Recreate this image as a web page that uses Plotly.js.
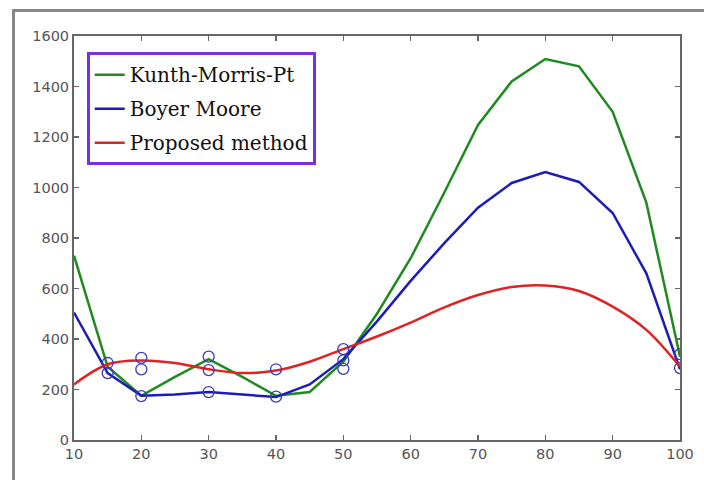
<!DOCTYPE html>
<html>
<head>
<meta charset="utf-8">
<script src="https://cdn.plot.ly/plotly-3.0.1.min.js"></script>
<style>
html,body{margin:0;padding:0;background:#fff;}
#wrap{position:relative;width:704px;height:480px;overflow:hidden;}
#frame{position:absolute;left:12px;top:9px;width:720px;height:500px;border-left:3px solid #888;border-top:3px solid #888;box-sizing:border-box;}
#chart{position:absolute;left:0;top:0;width:704px;height:480px;}
</style>
</head>
<body>
<div id="wrap"><div id="frame"></div><div id="chart"></div></div>
<script>
const xVals = [10, 15, 20, 25, 30, 35, 40, 45, 50, 55, 60, 65, 70, 75, 80, 85, 90, 95, 100];
const kmp = [730, 290, 175, 250, 320, 250, 175, 190, 310, 500, 720, 980, 1248, 1420, 1509, 1480, 1300, 940, 330];
const boyer = [505, 265, 175, 180, 190, 180, 170, 220, 320, 470, 630, 780, 920, 1018, 1061, 1022, 899, 660, 280];
const proposed = [220, 300, 315, 305, 280, 265, 275, 310, 360, 410, 465, 525, 574, 606, 612, 590, 528, 436, 290];
const markerX = [15, 15, 20, 20, 20, 30, 30, 30, 40, 40, 50, 50, 50, 100, 100];
const markerY = [305, 265, 325, 280, 174, 330, 277, 190, 280, 172, 360, 315, 282, 340, 285];
const seriesNames = ["Kunth-Morris-Pt", "Boyer Moore", "Proposed method"];
const xTicks = [10, 20, 30, 40, 50, 60, 70, 80, 90, 100];
const yTicks = [0, 200, 400, 600, 800, 1000, 1200, 1400, 1600];

const traces = [
  {x: xVals, y: kmp, name: seriesNames[0], legendgroup: 'a', mode: 'lines', line: {color: '#1f8a1f', width: 2.5}},
  {x: xVals, y: boyer, name: seriesNames[1], legendgroup: 'b', mode: 'lines', line: {color: '#1c1cb8', width: 2.5}},
  {x: xVals, y: proposed, name: seriesNames[2], legendgroup: 'c', mode: 'lines', line: {color: '#e02222', width: 2.5, shape: 'spline'}},
  {x: markerX, y: markerY, mode: 'markers', showlegend: false,
   marker: {symbol: 'circle-open', size: 11, color: '#3a3ab8', line: {width: 1.3}}}
];

const axisCommon = {
  showgrid: false, zeroline: false, showline: true, linecolor: '#666', linewidth: 2,
  mirror: 'ticks', ticks: 'inside', ticklen: 5, tickcolor: '#666', tickwidth: 1.5,
  tickfont: {family: 'DejaVu Sans, sans-serif', size: 14.5, color: '#555'}
};

const layout = {
  width: 704, height: 480,
  margin: {l: 74, r: 24, t: 36, b: 40},
  paper_bgcolor: 'rgba(0,0,0,0)', plot_bgcolor: '#fff',
  xaxis: Object.assign({}, axisCommon, {range: [10, 100], tickvals: xTicks, ticktext: xTicks.map(String)}),
  yaxis: Object.assign({}, axisCommon, {range: [0, 1600], tickvals: yTicks, ticktext: yTicks.map(String)}),
  showlegend: true,
  legend: {
    x: 0.021, y: 0.96, xanchor: 'left', yanchor: 'top',
    bgcolor: '#fff', bordercolor: '#7a2fe0', borderwidth: 3,
    font: {family: 'DejaVu Serif, serif', size: 20, color: '#111'},
    tracegroupgap: 5, itemwidth: 30
  }
};

Plotly.newPlot('chart', traces, layout, {displayModeBar: false, staticPlot: true});
</script>
</body>
</html>
